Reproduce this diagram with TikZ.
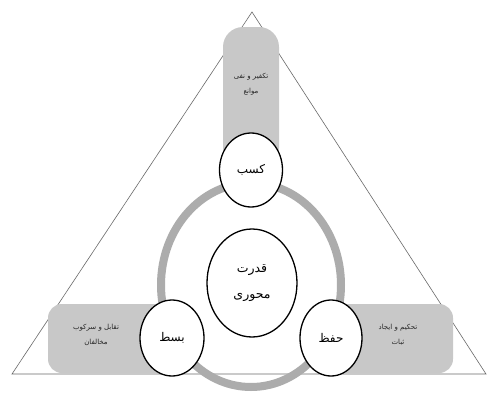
\documentclass[tikz,border=0pt]{standalone}
\usepackage{fontspec}
\usetikzlibrary{shapes.geometric}
\TeXXeTstate=1
\newfontfamily\arabicfont[Script=Arabic]{DejaVu Sans}
\definecolor{boxgray}{RGB}{200,200,200}
\definecolor{ringgray}{RGB}{172,172,172}
\definecolor{linegray}{RGB}{105,105,105}
\begin{document}
\begin{tikzpicture}[x=1pt,y=-1pt,
  phase/.style={ellipse, draw=black, line width=1.3pt, fill=white, inner sep=0pt,
    font=\arabicfont\fontsize{12}{14}\selectfont},
  core/.style={phase, align=center, font=\arabicfont\fontsize{12.5}{26}\selectfont},
  boxlabel/.style={align=center, text=black!85, font=\arabicfont\fontsize{7}{15}\selectfont},
  band/.style={fill=boxgray, rounded corners=14pt}]
\useasboundingbox (0,0) rectangle (488,394);
\fill[white] (0,0) rectangle (488,394);
\coordinate (apex) at (252,12);
\coordinate (bl) at (12,374);
\coordinate (br) at (486,374);
\draw[linegray, line width=0.6pt] (apex) -- (bl) -- (br) -- cycle;
% grey bands
\fill[band, rounded corners=20pt] (223,27) rectangle (279,168);
\fill[band] (48,304) rectangle (176,373);
\fill[band] (328,304) rectangle (453,373);
% ring
\draw[ringgray, line width=8pt] (251,285) ellipse [x radius=90, y radius=102];
% circles
\node[phase, minimum width=63, minimum height=74] (kasb) at (251,170) {\beginR کسب\endR};
\node[core, minimum width=90, minimum height=108] (core) at (252,283) {\beginR قدرت\endR\\\beginR محوری\endR};
\node[phase, minimum width=64, minimum height=76] (bast) at (172,338) {\beginR بسط\endR};
\node[phase, minimum width=62, minimum height=76] (hefz) at (331,338) {\beginR حفظ\endR};
% band labels
\node[boxlabel] (ltop) at (251,84) {\beginR تکفیر و نفی\endR\\\beginR موانع\endR};
\node[boxlabel] (lleft) at (96,335) {\beginR تقابل و سرکوب\endR\\\beginR مخالفان\endR};
\node[boxlabel] (lright) at (398,335) {\beginR تحکیم و ایجاد\endR\\\beginR ثبات\endR};
\end{tikzpicture}
\end{document}
